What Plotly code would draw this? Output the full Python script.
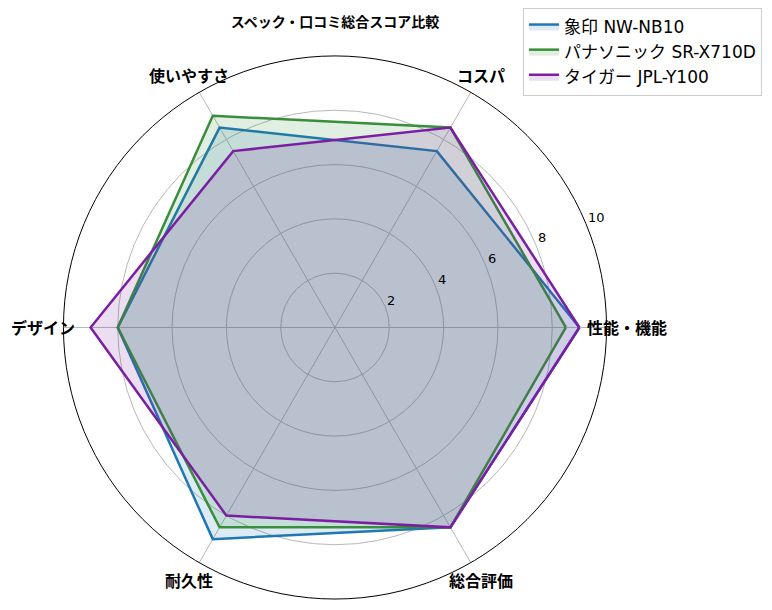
import math
import plotly.graph_objects as go

# 評価項目
categories = ['性能・機能', 'コスパ', '使いやすさ', 'デザイン', '耐久性', '総合評価']

# 各製品のスコア
zojirushi = [9.0, 7.5, 8.5, 8.0, 9.0, 8.5]
panasonic = [8.5, 8.5, 9.0, 8.0, 8.5, 8.5]
tiger = [9.0, 8.5, 7.5, 9.0, 8.0, 8.5]

series_names = ['象印 NW-NB10', 'パナソニック SR-X710D', 'タイガー JPL-Y100']
radial_ticks = [2, 4, 6, 8, 10]
r_max = 10

W, H = 772, 610
jp_font = 'Noto Sans CJK JP'
mix_font = 'DejaVu Sans, Noto Sans CJK JP'

# polar area (page has 8px body margin)
cx, cy, rad = 335 - 8, 327 - 8, 272
label_angle = 22.5

fig = go.Figure()
styles = [('#1f77b4', 'rgba(31,119,180,0.15)'),
          ('#388e3c', 'rgba(56,142,60,0.15)'),
          ('#7b1fa2', 'rgba(123,31,162,0.15)')]
for name, vals, (lc, fc) in zip(series_names, [zojirushi, panasonic, tiger], styles):
    fig.add_trace(go.Scatterpolar(
        r=vals + vals[:1], theta=categories + categories[:1],
        mode='lines', name=name, fill='toself', fillcolor=fc,
        line=dict(color=lc, width=2.5)))

# category labels placed like matplotlib (centred just outside the circle)
for i, cat in enumerate(categories):
    a = math.radians(360 / len(categories) * i)
    fig.add_annotation(text='<b>' + cat + '</b>', showarrow=False,
                       xref='paper', yref='paper',
                       x=(cx + 292 * math.cos(a)) / W,
                       y=1 - (cy - 292 * math.sin(a)) / H,
                       xanchor='center', yanchor='middle',
                       font=dict(size=16, family=jp_font, color='black'))

# radial tick labels, horizontal, sitting just above the 22.5° ray
for t in radial_ticks:
    a = math.radians(label_angle)
    rp = t / r_max * rad
    fig.add_annotation(text=str(t), showarrow=False,
                       xref='paper', yref='paper',
                       x=(cx + rp * math.cos(a)) / W,
                       y=1 - (cy - rp * math.sin(a) - 6.5) / H,
                       xanchor='left', yanchor='middle',
                       font=dict(size=13, family='DejaVu Sans', color='black'))

fig.update_layout(
    width=W, height=H,
    margin=dict(l=0, r=0, t=0, b=0),
    paper_bgcolor='white',
    font=dict(family=mix_font, color='black'),
    showlegend=True,
    title=dict(text='<b>スペック・口コミ総合スコア比較</b>', x=cx / W, xanchor='center',
               y=1 - (22 - 8) / H, yanchor='middle',
               font=dict(size=14, family=jp_font)),
    polar=dict(
        domain=dict(x=[(cx - rad) / W, (cx + rad) / W],
                    y=[1 - (cy + rad) / H, 1 - (cy - rad) / H]),
        bgcolor='white',
        angularaxis=dict(rotation=0, direction='counterclockwise',
                         showline=True, linecolor='black', linewidth=1,
                         gridcolor='#b8b8b8', gridwidth=1, ticks='',
                         showticklabels=False),
        radialaxis=dict(range=[0, r_max], tickvals=radial_ticks, angle=label_angle,
                        showticklabels=False, showline=False, ticks='',
                        gridcolor='#b8b8b8')),
    legend=dict(x=(523 - 8) / W, y=1.002, xanchor='left', yanchor='top',
                bgcolor='white', bordercolor='#cccccc', borderwidth=1,
                tracegroupgap=0,
                font=dict(size=17, family=mix_font)),
)

fig.write_html("out.html")
